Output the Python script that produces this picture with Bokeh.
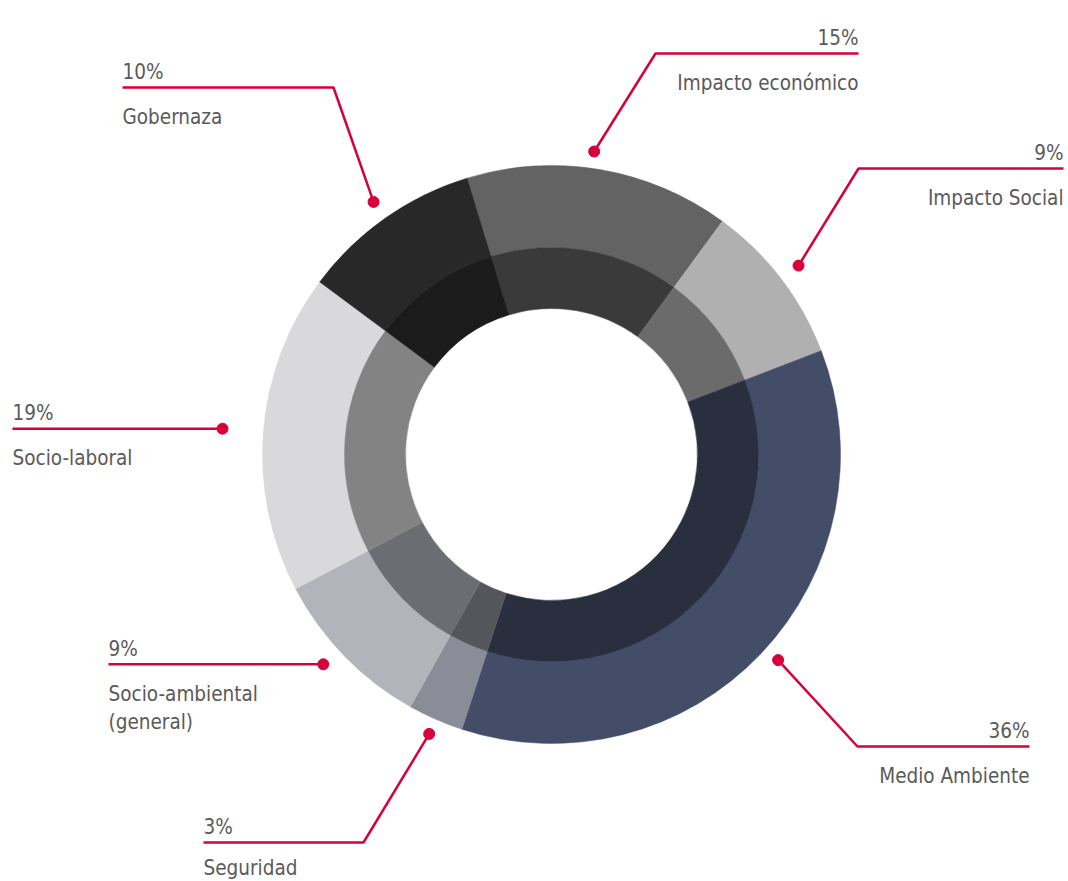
import math
from bokeh.plotting import figure
from bokeh.models import Range1d, ColumnDataSource
from bokeh.core.properties import value
from bokeh.embed import file_html
from bokeh.resources import INLINE

# ---------------- data ----------------
categories = ["Impacto económico", "Impacto Social", "Medio Ambiente", "Seguridad",
              "Socio-ambiental\n(general)", "Socio-laboral", "Gobernaza"]
pct_labels = [15, 9, 36, 3, 9, 19, 10]          # printed percentages
shares = [14.8, 9.1, 35.9, 3.1, 9.2, 17.9, 10.1]  # wedge sizes as drawn

outer_colors = ["#636363", "#b0b0b0", "#434d68", "#8a8d98", "#b3b4ba", "#d9d9db", "#282828"]
inner_colors = ["#3a3a3a", "#6b6b6b", "#2a2f40", "#55565c", "#6c6d72", "#838384", "#1b1b1b"]

# ---------------- layout (pixels, y down) ----------------
W, H = 1068, 881
CX, CY = 551, 454
R_OUT, R_MID, R_IN = 289, 207, 146
START_CW = -17.0  # degrees clockwise from 12 o'clock

label_layout = [
    dict(r=306, t=0.47, elbow=(655, 53), end=858),
    dict(r=311, t=0.5, elbow=(858, 168), end=1063),
    dict(r=306, t=0.49, elbow=(857, 746), end=1029),
    dict(r=305, t=0.5, elbow=(363, 842), end=203, name_dy=25),
    dict(r=310, t=0.55, elbow=None, end=108),
    dict(r=330, t=0.5, elbow=None, end=12),
    dict(r=309, t=0.5, elbow=(333, 87), end=122),
]

RED = "#d7003a"
TXT = "#5a5a5a"
FONT = value("DejaVu Sans Condensed")
FS = "20.5px"
PCT_DY = -15.5
NAME_DY = 29.5
LINE_GAP = 28


def fy(py):
    return H - py


total = sum(shares)
starts, ends, cw1, cw2 = [], [], [], []
acc = START_CW
for s in shares:
    a1 = acc
    a2 = acc + s / total * 360.0
    cw1.append(a1)
    cw2.append(a2)
    starts.append(math.radians(90 - a2))
    ends.append(math.radians(90 - a1))
    acc = a2

p = figure(width=W, height=H, x_range=Range1d(0, W), y_range=Range1d(0, H),
           x_axis_location=None, y_axis_location=None, toolbar_location=None,
           output_backend="svg", min_border=0, outline_line_color=None,
           background_fill_color="white", border_fill_color="white")
p.xgrid.visible = False
p.ygrid.visible = False

n = len(shares)
src = ColumnDataSource(dict(x=[CX] * n, y=[fy(CY)] * n, start=starts, end=ends,
                            oc=outer_colors, ic=inner_colors))
p.annular_wedge(x="x", y="y", inner_radius=R_MID, outer_radius=R_OUT,
                start_angle="start", end_angle="end", fill_color="oc",
                line_color="oc", line_width=0.5, source=src)
p.annular_wedge(x="x", y="y", inner_radius=R_IN, outer_radius=R_MID,
                start_angle="start", end_angle="end", fill_color="ic",
                line_color="ic", line_width=0.5, source=src)

# leaders and labels
lx, ly, dx, dy = [], [], [], []
tx, ty, tt, ta = [], [], [], []
for i, lay in enumerate(label_layout):
    th = math.radians(cw1[i] + lay["t"] * (cw2[i] - cw1[i]))
    px = CX + lay["r"] * math.sin(th)
    py = CY - lay["r"] * math.cos(th)
    dx.append(px)
    dy.append(fy(py))
    if lay["elbow"] is None:
        ex, ey = px, py
    else:
        ex, ey = lay["elbow"]
    end = lay["end"]
    lx.append([px, ex, end])
    ly.append([fy(py), fy(ey), fy(ey)])
    align = "right" if end > CX else "left"
    ndy = lay.get("name_dy", NAME_DY)
    tx.append(end); ty.append(fy(ey + PCT_DY)); tt.append(f"{pct_labels[i]}%"); ta.append(align)
    for k, part in enumerate(categories[i].split("\n")):
        tx.append(end); ty.append(fy(ey + ndy + LINE_GAP * k)); tt.append(part); ta.append(align)

p.multi_line(xs=lx, ys=ly, line_color=RED, line_width=2.5)
p.scatter(x=dx, y=dy, size=11, fill_color=RED, line_color=RED)
p.text(x=tx, y=ty, text=tt, text_align=ta, text_baseline="alphabetic",
       text_font=FONT, text_font_size=FS, text_color=TXT)

open("out.html", "w").write(file_html(p, INLINE))
